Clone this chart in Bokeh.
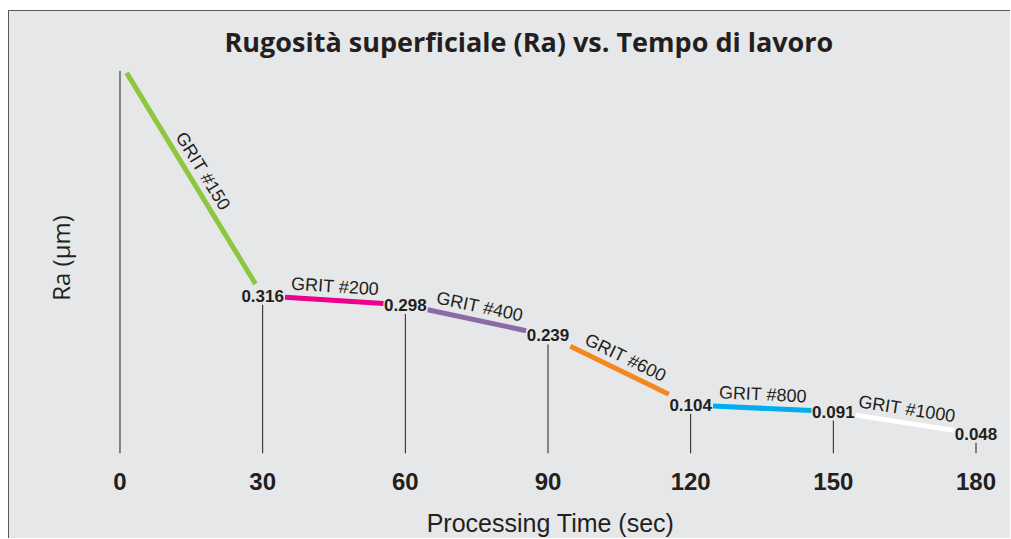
import math
from bokeh.plotting import figure
from bokeh.models import FixedTicker, Range1d
from bokeh.core.properties import value
from bokeh.embed import file_html
from bokeh.resources import INLINE

# ---- data ----
times = [0, 30, 60, 90, 120, 150, 180]
ra = [0.77, 0.316, 0.298, 0.239, 0.104, 0.091, 0.048]
ra_labels = ["", "0.316", "0.298", "0.239", "0.104", "0.091", "0.048"]
grits = ["GRIT #150", "GRIT #200", "GRIT #400", "GRIT #600", "GRIT #800", "GRIT #1000"]
grit_colors = ["#8dc63f", "#ec008c", "#8c6aa6", "#f6861f", "#00aeef", "#ffffff"]
x_ticks = [0, 30, 60, 90, 120, 150, 180]

# ---- style / layout ----
BG = "#e6e7e8"
INK = "#231f20"
W, H = 1002, 528
MB_L, MB_R, MB_T, MB_B = 91, 11, 51, 86
X0, X1 = -4.10, 185.15
Y0, Y1 = 0.0097, 0.7689

p = figure(width=W, height=H, output_backend="svg", toolbar_location=None,
           x_range=Range1d(X0, X1), y_range=Range1d(Y0, Y1),
           min_border_left=MB_L, min_border_right=MB_R,
           min_border_top=MB_T, min_border_bottom=MB_B,
           background_fill_color=BG, border_fill_color=BG,
           title="Rugosità superficiale (Ra) vs. Tempo di lavoro")
p.styles = {"margin-left": "8px", "margin-top": "10px", "background-color": BG,
            "border-left": "1px solid #58595b", "border-top": "1px solid #58595b"}
p.outline_line_color = None
p.grid.visible = False

p.title.align = "left"
p.title.offset = 124
p.title.standoff = 5
p.title.text_font = "Open Sans"
p.title.text_font_style = "bold"
p.title.text_font_size = "27px"
p.title.text_color = INK

# x axis
p.xaxis.ticker = FixedTicker(ticks=x_ticks)
p.xaxis.axis_line_color = None
p.xaxis.major_tick_line_color = None
p.xaxis.minor_tick_line_color = None
p.xaxis.major_tick_out = 0
p.xaxis.major_tick_in = 0
p.xaxis.minor_tick_out = 0
p.xaxis.major_label_standoff = 19
p.xaxis.major_label_text_font = "Liberation Sans"
p.xaxis.major_label_text_font_style = "bold"
p.xaxis.major_label_text_font_size = "24px"
p.xaxis.major_label_text_color = INK
p.xaxis.axis_label = "Processing Time (sec)"
p.xaxis.axis_label_standoff = 16
p.xaxis.axis_label_text_font = "Liberation Sans"
p.xaxis.axis_label_text_font_style = "normal"
p.xaxis.axis_label_text_font_size = "25px"
p.xaxis.axis_label_text_color = INK

# y axis
p.yaxis.ticker = FixedTicker(ticks=[])
p.yaxis.axis_line_color = None
p.yaxis.major_tick_out = 0
p.yaxis.minor_tick_out = 0
p.yaxis.axis_label = "Ra (µm)"
p.yaxis.axis_label_standoff = 24
p.yaxis.axis_label_text_font = "Open Sans"
p.yaxis.axis_label_text_font_style = "normal"
p.yaxis.axis_label_text_font_size = "24px"
p.yaxis.axis_label_text_color = INK

# pixel scales
frame_w = W - MB_L - MB_R
frame_h = H - MB_T - MB_B
ppx = frame_w / (X1 - X0)
ppy = frame_h / (Y1 - Y0)

# drop lines from baseline up to just below each value label
drop_top = [v - 9.0 / ppy for v in ra]
p.segment(x0=times, y0=[Y0] * len(times), x1=times, y1=drop_top,
          line_color=INK, line_width=1)

# coloured segments, trimmed around the value labels
start_gap = [1.4] + [4.7] * 5
end_gap = [1.5] + [4.6] * 5
sx0, sy0, sx1, sy1 = [], [], [], []
lx, ly, la, lxo, lyo = [], [], [], [], []
for i in range(len(grits)):
    ta, tb = times[i], times[i + 1]
    va, vb = ra[i], ra[i + 1]
    slope = (vb - va) / (tb - ta)
    a0 = ta + start_gap[i]
    b0 = tb - end_gap[i]
    ya = va + slope * (a0 - ta)
    yb = va + slope * (b0 - ta)
    sx0.append(a0); sy0.append(ya); sx1.append(b0); sy1.append(yb)
    ang = math.atan2((vb - va) * ppy, (tb - ta) * ppx)
    mx = (a0 + b0) / 2
    my = (ya + yb) / 2
    lx.append(mx); ly.append(my); la.append(ang)
    lxo.append(-math.sin(ang) * 14); lyo.append(-math.cos(ang) * 14)

p.segment(x0=sx0, y0=sy0, x1=sx1, y1=sy1, line_color=grit_colors,
          line_width=5, line_cap="butt")

p.text(x=lx, y=ly, text=grits, angle=la, x_offset=lxo, y_offset=lyo,
       text_align="center", text_baseline="middle",
       text_font=value("Liberation Sans"), text_font_size="18px", text_color=INK)

# value labels
p.text(x=times[1:], y=ra[1:], text=ra_labels[1:],
       text_align="center", text_baseline="middle",
       text_font=value("Liberation Sans"), text_font_style="bold",
       text_font_size="17px", text_color=INK)

open("out.html", "w").write(file_html(p, INLINE))
